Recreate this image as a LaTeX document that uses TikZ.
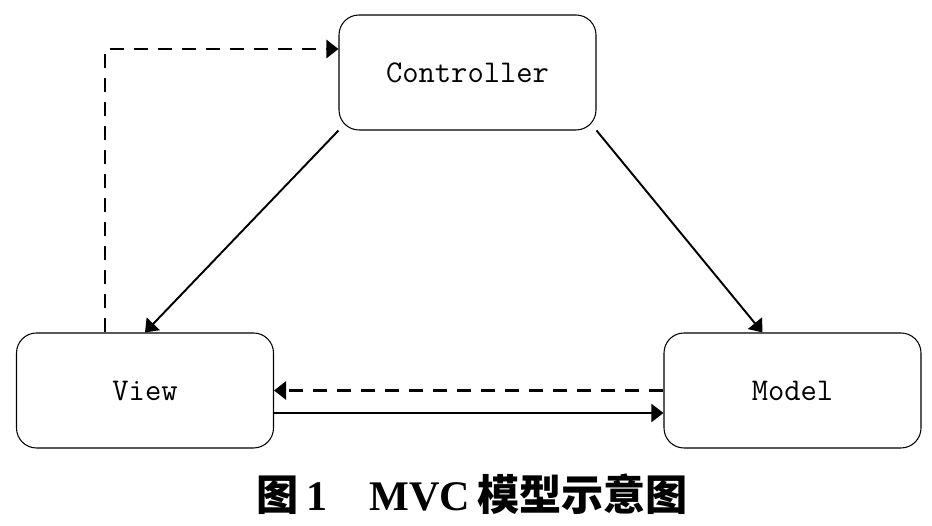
\documentclass[tikz,border=0pt]{standalone}
\usepackage{fontspec}
\setmainfont{Liberation Serif}
\newfontfamily\cjk{Noto Sans CJK SC}
\usetikzlibrary{arrows.meta}

\tikzset{
  box/.style={draw, line width=0.6pt, rounded corners=0.4cm,
    minimum width=5.14cm, minimum height=2.3cm,
    font=\ttfamily\fontsize{18}{20}\selectfont},
  flow/.style={line width=1.1pt, -{Triangle[length=0.24cm,width=0.36cm]}},
  back/.style={flow, line width=1.6pt, dash pattern=on 0.28cm off 0.2cm}
}

\begin{document}
\begin{tikzpicture}
\useasboundingbox (0,0) rectangle (18.64,10.52);

\node[box] (ctrl) at (9.35,9.07) {Controller};
\node[box] (view) at (2.9,2.71) {View};
\node[box] (model) at (15.85,2.71) {Model};

\coordinate (vtop) at ([xshift=-0.8cm]view.north);
\coordinate (cin) at ([yshift=0.47cm]ctrl.west);
\coordinate (min) at ([xshift=-0.6cm]model.north);

\draw[flow] (ctrl.south west) -- (view.north);
\draw[flow] (ctrl.south east) -- (min);

\draw[back] (vtop) |- (cin);
\draw[back] (model.west) -- (view.east);
\draw[flow] ([yshift=-0.45cm]view.east) -- ([yshift=-0.45cm]model.west);

\node (cap) at (9.45,0.64) {\fontsize{24}{26}\selectfont\bfseries{\cjk 图}\,1\quad MVC\,{\cjk 模型示意图}};
\end{tikzpicture}
\end{document}
